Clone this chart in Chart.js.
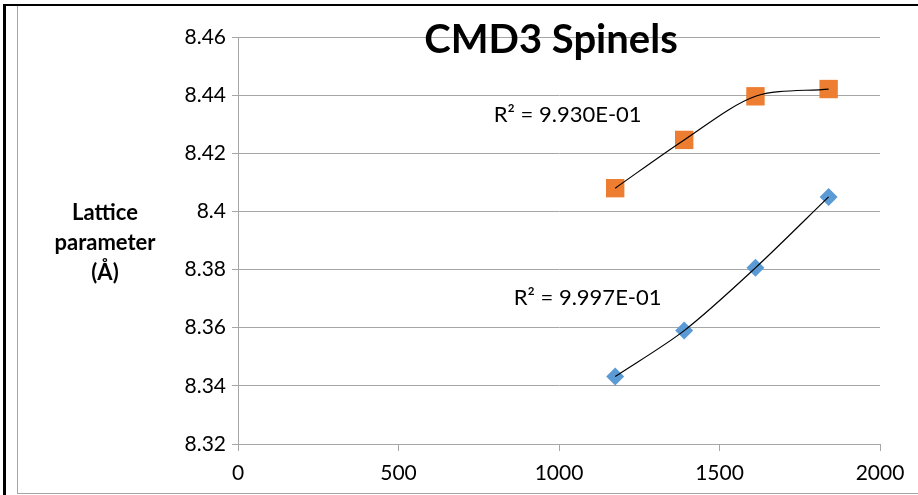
<!DOCTYPE html>
<html><head><meta charset="utf-8">
<script src="https://cdn.jsdelivr.net/npm/chart.js@4.4.0/dist/chart.umd.min.js"></script>
<style>
html,body{margin:0;padding:0;background:#fff;}
#wrap{position:relative;width:918px;height:495px;overflow:hidden;background:#fff;}
#c{position:absolute;left:0;top:0;}
.b{position:absolute;}
</style></head><body>
<div id="wrap">
<canvas id="c" width="918" height="495"></canvas>
<div class="b" style="left:3px;top:4px;width:3px;height:491px;background:#000"></div>
<div class="b" style="left:3px;top:4px;width:915px;height:2px;background:#000"></div>
<div class="b" style="left:17px;top:6px;width:1px;height:488px;background:#a6a6a6"></div>
<div class="b" style="left:17px;top:493px;width:901px;height:1px;background:#a6a6a6"></div>
</div>
<script>
// ---- data ----
const temperatures = [1175, 1390, 1612, 1840];
const latticeOrange = [8.408, 8.4246, 8.4396, 8.4421];
const latticeBlue = [8.3432, 8.359, 8.3806, 8.405];
const xTickValues = [0, 500, 1000, 1500, 2000];
const yTickValues = [8.32, 8.34, 8.36, 8.38, 8.40, 8.42, 8.44, 8.46];
const chartTitle = 'CMD3 Spinels';
const yAxisTitle = ['Lattice', 'parameter', '(Å)'];
const r2Orange = 'R² = 9.930E-01';
const r2Blue = 'R² = 9.997E-01';

const toPts = (ys) => temperatures.map((x, i) => ({x: x, y: ys[i]}));
const FONT = 'Lato';

const textPlugin = {
  id: 'texts',
  afterDatasetsDraw(chart) {
    const ctx = chart.ctx;
    const xs = chart.scales.x, ys = chart.scales.y;
    ctx.save();
    ctx.fillStyle = '#000';
    // title
    ctx.font = 'bold 40px ' + FONT;
    ctx.textAlign = 'center';
    ctx.textBaseline = 'alphabetic';
    ctx.fillText(chartTitle, xs.getPixelForValue(975), ys.getPixelForValue(8.4545));
    // R² labels
    ctx.font = '22px ' + FONT;
    ctx.textAlign = 'left';
    ctx.fillText(r2Orange, xs.getPixelForValue(797), ys.getPixelForValue(8.4308));
    ctx.fillText(r2Blue, xs.getPixelForValue(859), ys.getPixelForValue(8.3679));
    // y axis title
    ctx.font = 'bold 22px ' + FONT;
    ctx.textAlign = 'center';
    ctx.textBaseline = 'middle';
    const cx = 105;
    const cy = (chart.chartArea.top + chart.chartArea.bottom) / 2 + 2;
    yAxisTitle.forEach((t, i) => ctx.fillText(t, cx, cy + (i - 1) * 30));
    ctx.restore();
  }
};

new Chart(document.getElementById('c'), {
  type: 'scatter',
  data: {
    datasets: [
      {type: 'line', data: toPts(latticeOrange), borderColor: '#000', borderWidth: 1.2,
       pointRadius: 0, tension: 0.3, fill: false, order: 0},
      {type: 'line', data: toPts(latticeBlue), borderColor: '#000', borderWidth: 1.2,
       pointRadius: 0, tension: 0.3, fill: false, order: 0},
      {data: toPts(latticeOrange), pointStyle: 'rect', pointRadius: 13, pointHoverRadius: 13,
       backgroundColor: '#ED7D31', borderColor: '#ED7D31', borderWidth: 0, order: 1},
      {data: toPts(latticeBlue), pointStyle: 'rectRot', pointRadius: 9, pointHoverRadius: 9,
       backgroundColor: '#5B9BD5', borderColor: '#5B9BD5', borderWidth: 0, order: 1}
    ]
  },
  options: {
    responsive: false,
    animation: false,
    events: [],
    layout: {padding: {left: 0, top: 37, right: 38, bottom: 0}},
    plugins: {legend: {display: false}, tooltip: {enabled: false}, title: {display: false}},
    scales: {
      x: {
        type: 'linear', min: 0, max: 2000,
        afterBuildTicks: (s) => { s.ticks = xTickValues.map(v => ({value: v})); },
        afterFit: (s) => { s.height = 51; },
        grid: {drawOnChartArea: false, drawTicks: true, tickLength: 7, color: '#a6a6a6', lineWidth: 1},
        border: {display: true, color: '#a6a6a6', width: 1},
        ticks: {font: {family: FONT, size: 21}, color: '#000', padding: 10, maxRotation: 0,
                callback: (v) => String(v)}
      },
      y: {
        type: 'linear', min: 8.32, max: 8.46,
        afterBuildTicks: (s) => { s.ticks = yTickValues.map(v => ({value: v})); },
        afterFit: (s) => { s.width = 238; },
        grid: {drawOnChartArea: true, drawTicks: true, tickLength: 6, color: '#a6a6a6', lineWidth: 1},
        border: {display: true, color: '#a6a6a6', width: 1},
        ticks: {font: {family: FONT, size: 21}, color: '#000', padding: 6,
                callback: (v) => String(parseFloat(Number(v).toFixed(2)))}
      }
    }
  },
  plugins: [textPlugin]
});
</script>
</body></html>
